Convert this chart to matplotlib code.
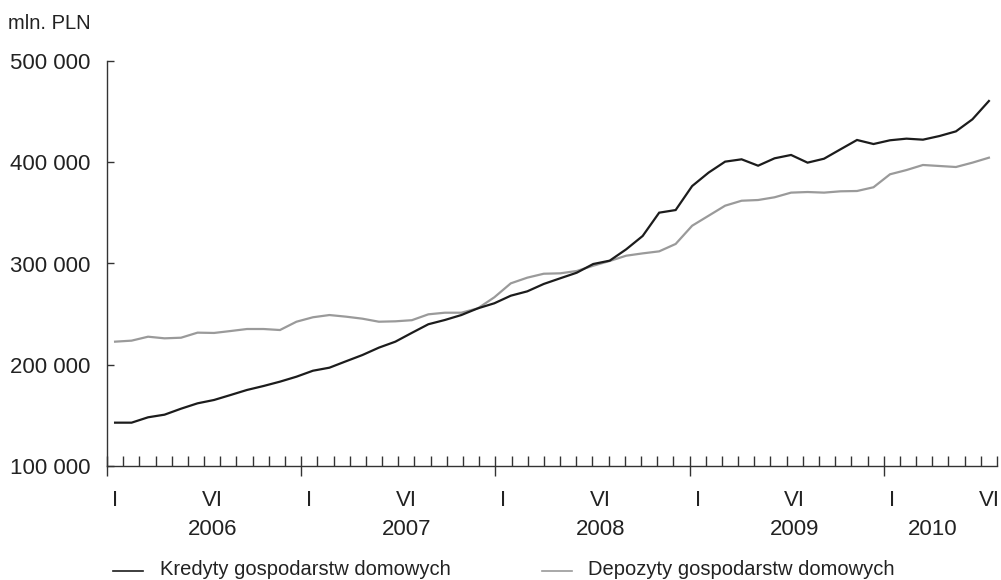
import numpy as np
import matplotlib
matplotlib.use("Agg")
import matplotlib.pyplot as plt
from matplotlib.lines import Line2D
import matplotlib.transforms as mtransforms

plt.rcParams['font.family'] = ['Liberation Sans', 'DejaVu Sans']

# monthly data, I 2006 - VI 2010 (mln PLN)
kredyty = [142800, 142800, 148100, 150700, 156600, 161900, 165200, 170100, 175100, 179000,
           183300, 188200, 194100, 197100, 203400, 209600, 216900, 222800, 231500, 240000,
           244200, 249100, 255700, 260700, 268200, 272500, 279800, 285400, 290900, 299500,
           302800, 314000, 327200, 350200, 352800, 376500, 389800, 400600, 402900, 396600,
           403900, 407200, 399600, 403500, 412800, 422000, 418000, 421700, 423300, 422300,
           425900, 430500, 442400, 460500]
depozyty = [222800, 223800, 227700, 226100, 226700, 231700, 231400, 233300, 235300, 235300,
            234300, 242500, 246900, 249100, 247500, 245500, 242500, 242900, 244000, 249800,
            251400, 251400, 255700, 266600, 280400, 286000, 289900, 290300, 292600, 297800,
            302500, 307700, 310000, 312000, 319300, 337300, 347200, 357100, 362000, 362700,
            365400, 370000, 370600, 370000, 371300, 371600, 375300, 388100, 392300, 397300,
            396300, 395300, 399600, 404500]
years = ['2006', '2007', '2008', '2009', '2010']
y_ticks = [100000, 200000, 300000, 400000, 500000]
y_labels = ['100 000', '200 000', '300 000', '400 000', '500 000']
legend_labels = ['Kredyty gospodarstw domowych', 'Depozyty gospodarstw domowych']

W, H = 1001, 580
fig = plt.figure(figsize=(W / 100, H / 100), dpi=100)
ax = fig.add_axes([107 / W, 1 - 466 / H, (997 - 107) / W, (466 - 61) / H])

n_slots = 55
x = np.linspace(0.5, n_slots - 0.5, len(kredyty))

black = '#1c1c1c'
grey = '#9a9a9a'
txt = '#222222'
ax.plot(x, depozyty, color=grey, lw=1.6, solid_joinstyle='miter')
ax.plot(x, kredyty, color=black, lw=1.6, solid_joinstyle='miter')

ax.set_xlim(0, n_slots)
ax.set_ylim(100000, 500000)

for s in ['top', 'right']:
    ax.spines[s].set_visible(False)
for s in ['left', 'bottom']:
    ax.spines[s].set_color('#333333')
    ax.spines[s].set_linewidth(1.0)

ax.set_yticks(y_ticks)
ax.set_yticklabels(y_labels, fontsize=16, color=txt)
ax.tick_params(axis='y', direction='in', length=5, width=1, color='#333333', pad=12)

year_bounds = [0, 12, 24, 36, 48]
minor = [m for m in range(1, n_slots + 1) if m not in year_bounds]
ax.set_xticks(year_bounds)
ax.set_xticklabels([])
ax.set_xticks(minor, minor=True)
ax.tick_params(axis='x', which='major', direction='inout', length=15, width=1, color='#333333')
ax.tick_params(axis='x', which='minor', direction='in', length=7, width=1, color='#333333')

trans = mtransforms.blended_transform_factory(ax.transData, ax.transAxes)
for k in range(5):
    ax.text(0.5 + 12 * k, -(506 - 466) / 405, 'I', transform=trans, ha='center', va='baseline',
            fontsize=16, color=txt)
    ax.text(6.5 + 12 * k, -(506 - 466) / 405, 'VI', transform=trans, ha='center', va='baseline',
            fontsize=16, color=txt)
year_pos = [6.5, 18.5, 30.5, 42.5, 51.0]
for xp, yr in zip(year_pos, years):
    ax.text(xp, -(535 - 466) / 405, yr, transform=trans, ha='center', va='baseline',
            fontsize=16, color=txt)

fig.text(8 / W, 1 - 29 / H, 'mln. PLN', ha='left', va='baseline', fontsize=14.5, color=txt)

# legend
ly = 1 - 571 / H
lb = 1 - 575 / H
fig.add_artist(Line2D([113 / W, 143 / W], [ly, ly], color=black, lw=1.2))
fig.text(160 / W, lb, legend_labels[0], ha='left', va='baseline', fontsize=14.5, color=txt)
fig.add_artist(Line2D([542 / W, 572 / W], [ly, ly], color=grey, lw=1.2))
fig.text(588 / W, lb, legend_labels[1], ha='left', va='baseline', fontsize=14.5, color=txt)

fig.savefig('out.png', dpi=100)
